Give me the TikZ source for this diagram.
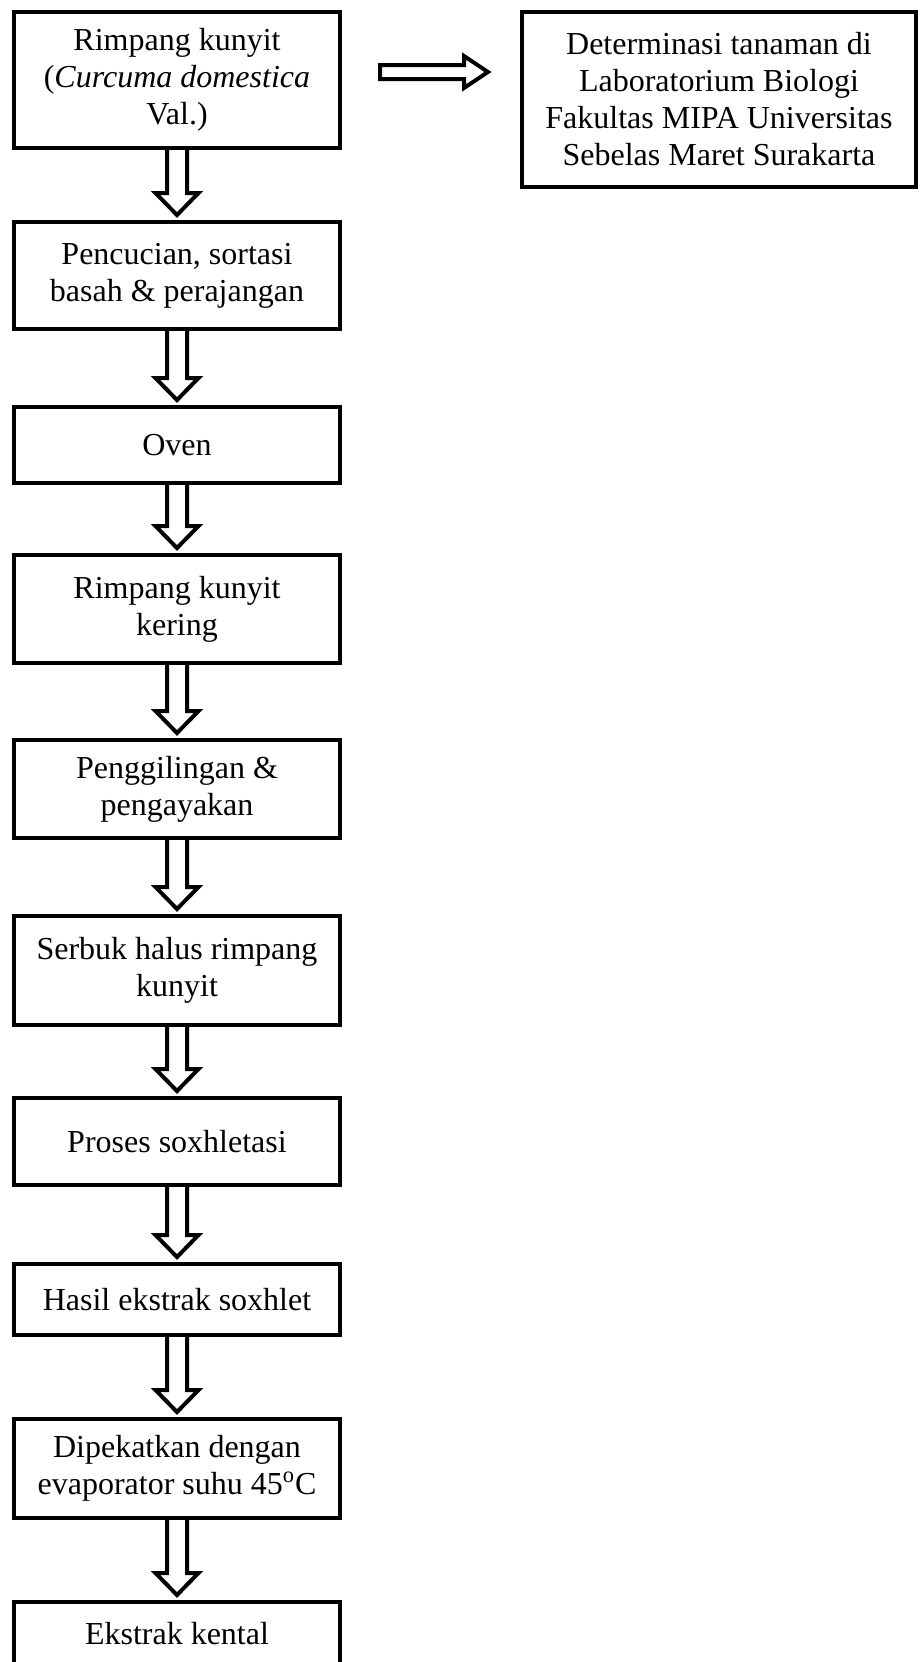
\documentclass[tikz,border=0pt]{standalone}
\usepackage{fontspec}
\setmainfont{Liberation Serif}
\usetikzlibrary{calc}

\tikzset{
  flowbox/.style={rectangle, draw, line width=2pt, minimum width=163pt,
    align=center, inner sep=2pt, font=\fontsize{16}{18.5}\selectfont},
  flowarrow/.style={draw, line width=2pt, line join=miter}
}

% hollow block arrow going down from #1 to #2
\newcommand{\downflow}[2]{%
  \draw[flowarrow] let \p1=(#1.south), \p2=(#2.north) in
    (\x1-5pt,\y1) -- (\x1-5pt,\y2+13.5pt) -- (\x1-10.75pt,\y2+13.5pt) -- (\x1,\y2+2.5pt)
    -- (\x1+10.75pt,\y2+13.5pt) -- (\x1+5pt,\y2+13.5pt) -- (\x1+5pt,\y1);}

% hollow block arrow going right from #1 to #2
\newcommand{\rightflow}[2]{%
  \draw[flowarrow] let \p1=(#1.east), \p2=(#2.west) in
    (\x1+19pt,\y1+0.5pt) -- (\x2-28pt,\y1+0.5pt) -- (\x2-28pt,\y1-4pt) -- (\x2-16pt,\y1+4pt)
    -- (\x2-28pt,\y1+12pt) -- (\x2-28pt,\y1+7.5pt) -- (\x1+19pt,\y1+7.5pt) -- cycle;}

\begin{document}
\begin{tikzpicture}[x=0.5pt, y=-0.5pt]
\useasboundingbox (0,0) rectangle (920,1662);

\node[flowbox, minimum height=68pt] (rimpang) at (177,80)
  {Rimpang kunyit\\(\textit{Curcuma domestica}\\Val.)};
\node[flowbox, minimum width=197pt, minimum height=87.5pt] (determinasi) at (719,99.5)
  {Determinasi tanaman di\\Laboratorium Biologi\\Fakultas MIPA Universitas\\Sebelas Maret Surakarta};
\node[flowbox, minimum height=53.5pt] (cuci) at (177,275.5)
  {Pencucian, sortasi\\basah \& perajangan};
\node[flowbox, minimum height=38pt] (oven) at (177,445) {Oven};
\node[flowbox, minimum height=54pt] (kering) at (177,609)
  {Rimpang kunyit\\kering};
\node[flowbox, minimum height=49pt] (giling) at (177,789)
  {Penggilingan \&\\pengayakan};
\node[flowbox, minimum height=54.5pt] (serbuk) at (177,970.5)
  {Serbuk halus rimpang\\kunyit};
\node[flowbox, minimum height=43.5pt] (soxhletasi) at (177,1141.5) {Proses soxhletasi};
\node[flowbox, minimum height=35.5pt] (hasil) at (177,1299.5) {Hasil ekstrak soxhlet};
\node[flowbox, minimum height=49.5pt] (pekat) at (177,1468.5)
  {Dipekatkan dengan\\evaporator suhu 45\textsuperscript{o}C};
\node[flowbox, minimum height=32pt] (kental) at (177,1634) {Ekstrak kental};

\rightflow{rimpang}{determinasi}
\downflow{rimpang}{cuci}
\downflow{cuci}{oven}
\downflow{oven}{kering}
\downflow{kering}{giling}
\downflow{giling}{serbuk}
\downflow{serbuk}{soxhletasi}
\downflow{soxhletasi}{hasil}
\downflow{hasil}{pekat}
\downflow{pekat}{kental}

\end{tikzpicture}
\end{document}
